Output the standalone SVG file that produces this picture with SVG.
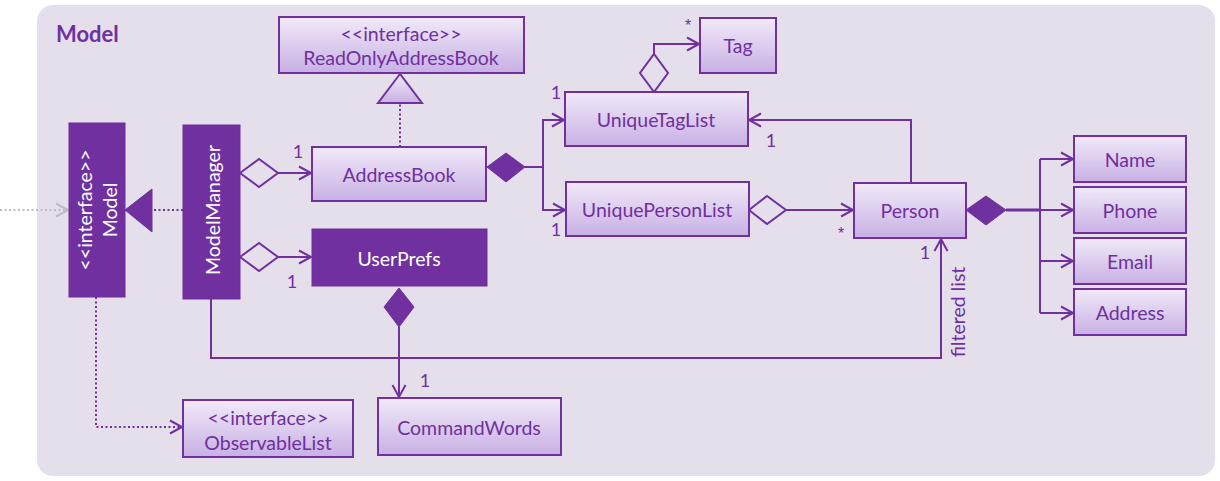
<svg xmlns="http://www.w3.org/2000/svg" width="1220" height="481" viewBox="0 0 1220 481">
<defs>
<linearGradient id="g" x1="0" y1="0" x2="0" y2="1">
<stop offset="0" stop-color="#F1EAF9"/>
<stop offset="1" stop-color="#C8B0E4"/>
</linearGradient>
<marker id="arr" markerUnits="userSpaceOnUse" markerWidth="16" markerHeight="16" refX="13" refY="8" orient="auto">
<path d="M1,1.5 L13,8 L1,14.5" fill="none" stroke="#7030A0" stroke-width="2"/>
</marker>
<marker id="arrg" markerUnits="userSpaceOnUse" markerWidth="16" markerHeight="16" refX="13" refY="8" orient="auto">
<path d="M1,1.5 L13,8 L1,14.5" fill="none" stroke="#BDBDBD" stroke-width="2"/>
</marker>
</defs>
<style>
.box{fill:url(#g);stroke:#7030A0;stroke-width:2}
.dark{fill:#7030A0;stroke:#6A2E9A;stroke-width:1}
.t{font-family:Lato,"Liberation Sans",sans-serif;font-size:19.5px;fill:#7030A0;text-anchor:middle;dominant-baseline:central}
.w{fill:#FFFFFF}
.lbl{font-family:Lato,"Liberation Sans",sans-serif;font-size:18px;fill:#7030A0;text-anchor:middle;dominant-baseline:central}
.st{font-family:"Liberation Sans",sans-serif;font-size:16px;fill:#7030A0;text-anchor:middle;dominant-baseline:central}
.ln{fill:none;stroke:#7030A0;stroke-width:2}
.dot{fill:none;stroke:#7030A0;stroke-width:2;stroke-dasharray:2 2.5}
.od{fill:#E5DFEC;stroke:#7030A0;stroke-width:2}
.fd{fill:#7030A0;stroke:#7030A0;stroke-width:1}
</style>
<rect x="37" y="5" width="1178" height="471" rx="16" fill="#E5DFEC"/>
<text x="56" y="33" font-family="Lato,'Liberation Sans',sans-serif" font-size="22" font-weight="bold" fill="#7030A0" dominant-baseline="central">Model</text>

<g id="connectors">
<line x1="0" y1="210" x2="68" y2="210" stroke="#BDBDBD" stroke-width="2" stroke-dasharray="2 2.5" marker-end="url(#arrg)"/>
<line class="dot" x1="183" y1="210" x2="152" y2="210"/>
<polygon class="fd" points="125,210 152,189 152,232"/>
<line class="dot" x1="400" y1="147" x2="400" y2="103"/>
<polygon class="box" points="400,74 378,103 422,103"/>
<polygon class="od" points="240,173 259,159 278,173 259,187"/>
<line class="ln" x1="278" y1="173" x2="311" y2="173" marker-end="url(#arr)"/>
<text class="lbl" x="298" y="151">1</text>
<polygon class="od" points="240,257 259,243 278,257 259,271"/>
<line class="ln" x1="278" y1="257" x2="311" y2="257" marker-end="url(#arr)"/>
<text class="lbl" x="292" y="281">1</text>
<polygon class="fd" points="487,167 506,153 525,167 506,182"/>
<polyline class="ln" points="525,167 543,167"/>
<polyline class="ln" points="543,167 543,120 564,120" marker-end="url(#arr)"/>
<polyline class="ln" points="543,167 543,210 565,210" marker-end="url(#arr)"/>
<text class="lbl" x="556" y="92">1</text>
<text class="lbl" x="556" y="229">1</text>
<polygon class="od" points="654,92 640,73 654,54 668,73"/>
<polyline class="ln" points="654,54 654,44 699,44" marker-end="url(#arr)"/>
<text class="st" x="688" y="25">*</text>
<polyline class="ln" points="911,183 911,120 749,120" marker-end="url(#arr)"/>
<text class="lbl" x="771" y="140">1</text>
<polygon class="od" points="749,210 767,196 786,210 767,224"/>
<line class="ln" x1="786" y1="210" x2="853" y2="210" marker-end="url(#arr)"/>
<text class="st" x="841" y="233">*</text>
<polygon class="fd" points="966,210 986,196 1006,210 986,225"/>
<line x1="1006" y1="210" x2="1040" y2="210" stroke="#7030A0" stroke-width="3"/>
<line class="ln" x1="1040" y1="159" x2="1040" y2="313"/>
<line class="ln" x1="1040" y1="159" x2="1073" y2="159" marker-end="url(#arr)"/>
<line class="ln" x1="1040" y1="210" x2="1073" y2="210" marker-end="url(#arr)"/>
<line class="ln" x1="1040" y1="261" x2="1073" y2="261" marker-end="url(#arr)"/>
<line class="ln" x1="1040" y1="313" x2="1073" y2="313" marker-end="url(#arr)"/>
<polyline class="ln" points="211,299 211,358 941,358 941,239" marker-end="url(#arr)"/>
<text class="lbl" x="925" y="252">1</text>
<text class="t" transform="translate(957,312) rotate(-90)">filtered list</text>
<polygon class="fd" points="399,288 414,307 399,327 384,307"/>
<line class="ln" x1="399" y1="327" x2="399" y2="397" marker-end="url(#arr)"/>
<text class="lbl" x="425" y="380">1</text>
<polyline class="dot" points="96,297 96,427 182,427" marker-end="url(#arr)"/>
</g>

<g id="ReadOnlyAddressBook">
<rect class="box" x="279" y="17" width="245" height="56"/>
<text class="t" x="401" y="33">&lt;&lt;interface&gt;&gt;</text>
<text class="t" x="401" y="57">ReadOnlyAddressBook</text>
</g>
<g id="AddressBook">
<rect class="box" x="312" y="147" width="174" height="54"/>
<text class="t" x="399" y="174">AddressBook</text>
</g>
<g id="UserPrefs">
<rect class="dark" x="312" y="229" width="175" height="57"/>
<text class="t w" x="399" y="258">UserPrefs</text>
</g>
<g id="Model">
<rect class="dark" x="69" y="123" width="56" height="174"/>
<text class="t w" transform="translate(84,210) rotate(-90)">&lt;&lt;interface&gt;&gt;</text>
<text class="t w" transform="translate(109,210) rotate(-90)">Model</text>
</g>
<g id="ModelManager">
<rect class="dark" x="183" y="125" width="57" height="174"/>
<text class="t w" transform="translate(212,210) rotate(-90)">ModelManager</text>
</g>
<g id="UniqueTagList">
<rect class="box" x="565" y="92" width="183" height="54"/>
<text class="t" x="656" y="119">UniqueTagList</text>
</g>
<g id="UniquePersonList">
<rect class="box" x="566" y="182" width="183" height="54"/>
<text class="t" x="657" y="209">UniquePersonList</text>
</g>
<g id="Tag">
<rect class="box" x="700" y="18" width="76" height="55"/>
<text class="t" x="738" y="45">Tag</text>
</g>
<g id="Person">
<rect class="box" x="854" y="183" width="112" height="55"/>
<text class="t" x="910" y="210">Person</text>
</g>
<g id="Name">
<rect class="box" x="1074" y="136" width="112" height="46"/>
<text class="t" x="1130" y="159">Name</text>
</g>
<g id="Phone">
<rect class="box" x="1074" y="187" width="112" height="46"/>
<text class="t" x="1130" y="210">Phone</text>
</g>
<g id="Email">
<rect class="box" x="1074" y="238" width="112" height="46"/>
<text class="t" x="1130" y="261">Email</text>
</g>
<g id="Address">
<rect class="box" x="1074" y="289" width="112" height="46"/>
<text class="t" x="1130" y="312">Address</text>
</g>
<g id="ObservableList">
<rect class="box" x="183" y="400" width="170" height="57"/>
<text class="t" x="268" y="417">&lt;&lt;interface&gt;&gt;</text>
<text class="t" x="268" y="442">ObservableList</text>
</g>
<g id="CommandWords">
<rect class="box" x="378" y="398" width="183" height="57"/>
<text class="t" x="469" y="427">CommandWords</text>
</g>
</svg>
